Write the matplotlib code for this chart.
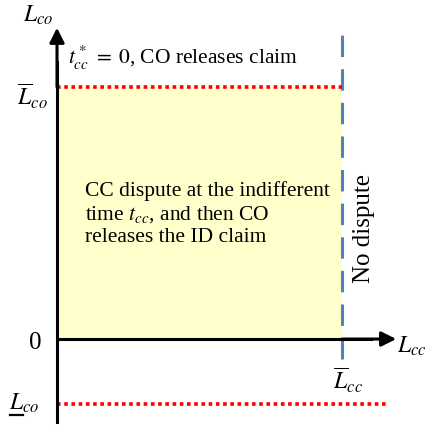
import matplotlib
matplotlib.use("Agg")
import matplotlib.pyplot as plt
from matplotlib.patches import Rectangle

plt.rcParams["font.family"] = ["Liberation Serif", "DejaVu Serif"]
plt.rcParams["mathtext.fontset"] = "stix"

# thresholds of the diagram (in normalised units)
L_cc_bar = 1.0          # upper bound of CC loss
L_co_bar = 1.0          # upper bound of CO loss
L_co_under = -0.258     # lower bound of CO loss
x_axis_end = 1.19
y_axis_end = 1.235
y_axis_bottom = -0.33
red_line_end = 1.155
blue_top = 1.21
blue_bottom = -0.08

region_text = "CC dispute at the indifferent\ntime $t_{cc}$, and then CO\nreleases the ID claim"
top_text = r"$t^*_{cc}\;=\;0$, CO releases claim"
right_text = "No dispute"


def main():
    fig = plt.figure(figsize=(4.25, 4.27), dpi=100)
    ax = fig.add_axes([0, 0, 1, 1])
    ax.set_xlim(-0.2, 1.291)
    ax.set_ylim(-0.345, 1.349)
    ax.axis("off")

    # shaded dispute region
    ax.add_patch(Rectangle((0, 0), L_cc_bar, L_co_bar, facecolor="#ffffcc",
                           edgecolor="none", zorder=1))

    # red dotted bounds of L_co
    ax.plot([0, L_cc_bar], [L_co_bar, L_co_bar], color="red", lw=2.6,
            linestyle=(0, (1, 1)), zorder=3)
    ax.plot([0, red_line_end], [L_co_under, L_co_under], color="red", lw=2.6,
            linestyle=(0, (1, 1)), zorder=3)

    # blue dashed bound of L_cc
    ax.plot([L_cc_bar, L_cc_bar], [blue_bottom, blue_top], color="#4f81bd",
            lw=2.2, linestyle=(0, (7, 4)), zorder=2)

    # axes with arrows
    ax.plot([0, 0], [y_axis_bottom, 1.1], color="black", lw=2.2, zorder=4)
    ax.annotate("", xy=(0, y_axis_end), xytext=(0, 1.0),
                arrowprops=dict(arrowstyle="-|>", color="black", lw=2.2,
                                mutation_scale=22, shrinkA=0, shrinkB=0),
                zorder=5)
    ax.plot([0, 1.1], [0, 0], color="black", lw=2.2, zorder=4)
    ax.annotate("", xy=(x_axis_end, 0), xytext=(1.0, 0),
                arrowprops=dict(arrowstyle="-|>", color="black", lw=2.2,
                                mutation_scale=22, shrinkA=0, shrinkB=0),
                zorder=5)

    # axis labels
    fs = 17
    ax.text(-0.067, 1.29, "$L_{co}$", fontsize=fs, ha="center", va="center")
    ax.text(-0.088, 0.965, r"$\overline{L}_{co}$", fontsize=fs, ha="center", va="center")
    ax.text(-0.075, -0.01, "0", fontsize=fs + 1, ha="center", va="center")
    ax.text(-0.115, -0.25, "$L_{co}$", fontsize=fs, ha="center", va="center")
    ax.plot([-0.166, -0.121], [-0.3, -0.3], color="black", lw=1.6)
    ax.text(1.192, -0.025, "$L_{cc}$", fontsize=fs, ha="left", va="center")
    ax.text(1.02, -0.16, r"$\overline{L}_{cc}$", fontsize=fs, ha="center", va="center")

    ax.text(0.04, 1.12, top_text, fontsize=15.5, ha="left", va="center")
    ax.text(0.098, 0.5, region_text, fontsize=15.5, ha="left", va="center",
            linespacing=1.2)
    ax.text(1.077, 0.444, right_text, fontsize=18, ha="center", va="center",
            rotation=90)

    fig.savefig("out.png", dpi=100)


if __name__ == "__main__":
    main()
